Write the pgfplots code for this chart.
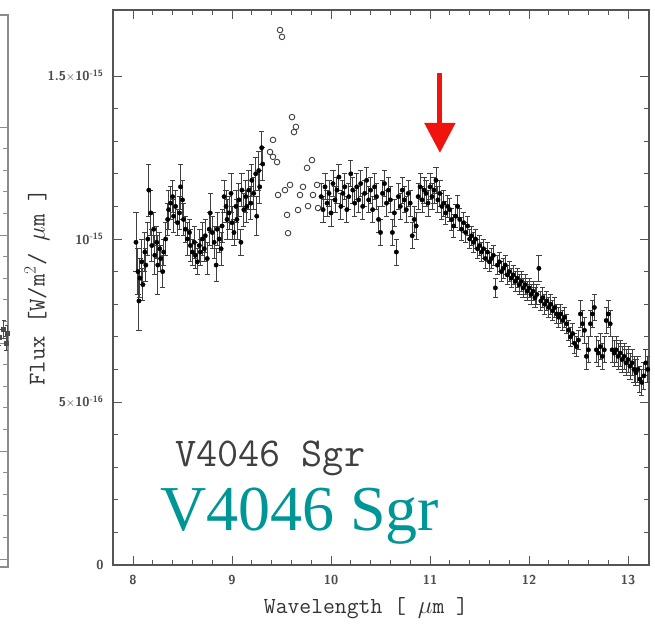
\documentclass[border=0pt]{standalone}
\usepackage{fontspec}
\usepackage{pgfplots}
\usepackage{pgfplotstable}
\pgfplotsset{compat=1.18}
\usetikzlibrary{arrows.meta}
\newfontfamily\timesfont{Liberation Serif}
\definecolor{axgray}{RGB}{85,85,85}
\definecolor{tealc}{RGB}{0,150,150}
\definecolor{arrred}{RGB}{240,20,15}

\pgfplotstableread{
x y e
8.03 0.99 0.09
8.05 0.90 0.07
8.06 0.81 0.09
8.07 0.88 0.06
8.09 0.93 0.07
8.10 0.86 0.05
8.12 0.96 0.06
8.13 0.92 0.05
8.15 1.00 0.05
8.16 1.15 0.08
8.18 1.08 0.07
8.19 0.98 0.05
8.21 1.03 0.05
8.22 0.95 0.06
8.24 0.99 0.05
8.25 0.92 0.09
8.27 0.97 0.05
8.28 0.94 0.04
8.30 0.90 0.05
8.31 0.96 0.04
8.33 1.00 0.05
8.35 1.06 0.05
8.36 1.09 0.06
8.38 1.11 0.05
8.40 1.13 0.05
8.41 1.07 0.05
8.43 1.10 0.05
8.45 1.05 0.04
8.47 1.08 0.05
8.48 1.16 0.07
8.50 1.12 0.06
8.51 1.06 0.05
8.53 1.03 0.04
8.55 1.00 0.05
8.57 1.02 0.04
8.58 0.98 0.05
8.60 0.96 0.04
8.62 0.99 0.05
8.63 0.95 0.04
8.65 0.93 0.04
8.67 0.98 0.05
8.68 0.96 0.04
8.70 1.00 0.05
8.72 0.97 0.04
8.73 1.01 0.05
8.75 0.94 0.05
8.77 1.03 0.05
8.78 1.08 0.06
8.80 1.02 0.05
8.82 0.99 0.05
8.84 0.92 0.05
8.85 1.03 0.05
8.87 1.00 0.04
8.89 0.97 0.05
8.90 1.04 0.05
8.92 1.13 0.05
8.94 1.10 0.05
8.95 1.06 0.06
8.97 1.08 0.05
8.99 1.14 0.06
9.00 1.05 0.05
9.02 1.02 0.04
9.04 1.10 0.05
9.05 1.06 0.06
9.07 1.12 0.05
9.09 0.99 0.04
9.10 1.15 0.05
9.12 1.09 0.05
9.14 1.13 0.05
9.15 1.10 0.05
9.17 1.15 0.06
9.19 1.11 0.05
9.20 1.18 0.05
9.22 1.14 0.05
9.24 1.20 0.05
9.25 1.07 0.06
9.27 1.21 0.06
9.28 1.16 0.05
9.30 1.28 0.05
9.31 1.23 0.05
}\dataA

\pgfplotstableread{
x y e
9.90 1.13 0.04
9.92 1.09 0.04
9.94 1.16 0.04
9.96 1.11 0.04
9.98 1.14 0.04
10.00 1.08 0.04
10.02 1.17 0.04
10.04 1.12 0.04
10.06 1.15 0.04
10.08 1.19 0.04
10.10 1.10 0.04
10.12 1.14 0.04
10.14 1.16 0.04
10.16 1.09 0.04
10.18 1.13 0.04
10.20 1.20 0.04
10.22 1.15 0.04
10.24 1.11 0.04
10.26 1.16 0.04
10.28 1.12 0.04
10.30 1.17 0.04
10.32 1.10 0.04
10.34 1.14 0.04
10.36 1.18 0.04
10.38 1.12 0.04
10.40 1.15 0.04
10.42 1.09 0.04
10.44 1.16 0.04
10.46 1.13 0.04
10.48 1.06 0.04
10.50 1.02 0.04
10.52 1.14 0.04
10.54 1.17 0.04
10.56 1.11 0.04
10.58 1.15 0.04
10.60 1.12 0.04
10.62 1.02 0.04
10.64 1.08 0.04
10.66 0.96 0.04
10.68 1.13 0.04
10.70 1.10 0.04
10.72 1.15 0.04
10.74 1.12 0.04
10.76 1.09 0.04
10.78 1.14 0.04
10.80 1.11 0.04
10.82 1.01 0.04
10.84 1.06 0.04
10.86 1.04 0.04
10.88 1.13 0.04
10.90 1.16 0.04
10.92 1.12 0.04
10.94 1.15 0.04
10.96 1.14 0.04
10.98 1.11 0.04
11.00 1.16 0.04
11.02 1.13 0.04
11.04 1.15 0.04
11.06 1.18 0.04
11.08 1.12 0.04
11.10 1.14 0.04
11.12 1.10 0.04
11.14 1.11 0.04
11.16 1.08 0.035
11.18 1.10 0.035
11.20 1.09 0.035
11.22 1.06 0.035
11.24 1.04 0.035
11.26 1.07 0.035
11.28 1.10 0.035
11.30 1.06 0.035
11.32 1.03 0.035
11.34 1.05 0.03
11.36 1.02 0.03
11.38 1.04 0.03
11.40 1.00 0.03
11.42 1.01 0.03
11.44 0.99 0.03
11.46 1.00 0.03
11.48 0.97 0.03
11.50 0.98 0.03
11.52 0.96 0.03
11.54 0.97 0.03
11.56 0.94 0.03
11.58 0.96 0.03
11.60 0.93 0.03
11.62 0.94 0.03
11.64 0.95 0.03
11.66 0.85 0.03
11.68 0.92 0.03
11.70 0.93 0.03
11.72 0.90 0.03
11.74 0.91 0.03
11.76 0.92 0.03
11.78 0.89 0.03
11.80 0.90 0.03
11.82 0.88 0.03
11.84 0.89 0.03
11.86 0.87 0.03
11.88 0.88 0.03
11.90 0.86 0.03
11.92 0.87 0.03
11.94 0.85 0.03
11.96 0.86 0.03
11.98 0.84 0.03
12.00 0.85 0.03
12.02 0.83 0.03
12.04 0.84 0.03
12.06 0.82 0.03
12.08 0.83 0.03
12.10 0.91 0.04
12.12 0.81 0.03
12.14 0.82 0.03
12.16 0.80 0.03
12.18 0.81 0.03
12.20 0.79 0.03
12.22 0.80 0.03
12.24 0.78 0.03
12.26 0.79 0.03
12.28 0.77 0.03
12.30 0.76 0.03
12.32 0.77 0.03
12.34 0.75 0.03
12.36 0.76 0.03
12.38 0.74 0.03
12.40 0.72 0.03
12.42 0.70 0.03
12.44 0.71 0.03
12.46 0.68 0.03
12.48 0.67 0.03
12.50 0.69 0.03
12.52 0.77 0.04
12.54 0.74 0.04
12.56 0.72 0.04
12.58 0.64 0.04
12.60 0.66 0.04
12.62 0.74 0.04
12.64 0.77 0.04
12.66 0.79 0.04
12.68 0.66 0.04
12.70 0.65 0.04
12.72 0.67 0.04
12.74 0.64 0.04
12.76 0.66 0.04
12.78 0.75 0.04
12.80 0.77 0.04
12.82 0.74 0.04
12.84 0.66 0.04
12.86 0.65 0.04
12.88 0.66 0.04
12.90 0.64 0.04
12.92 0.65 0.04
12.94 0.63 0.04
12.96 0.64 0.04
12.98 0.62 0.04
13.00 0.63 0.04
13.02 0.61 0.04
13.04 0.62 0.04
13.06 0.60 0.04
13.08 0.59 0.04
13.10 0.60 0.04
13.12 0.57 0.04
13.14 0.56 0.04
13.16 0.58 0.04
13.18 0.62 0.04
13.20 0.60 0.04
}\dataB

\pgfplotstableread{
x y
9.485 1.641
9.505 1.620
9.606 1.374
9.646 1.344
9.626 1.328
9.414 1.304
9.384 1.267
9.414 1.252
9.455 1.236
9.808 1.242
9.758 1.218
9.859 1.166
9.586 1.166
9.535 1.150
9.465 1.135
9.717 1.160
9.687 1.135
9.818 1.135
9.556 1.074
9.667 1.089
9.768 1.101
9.869 1.095
9.566 1.018
}\dataC

\begin{document}
\begin{tikzpicture}[x=1pt,y=1pt]
% sliver of the neighbouring panel
\begin{axis}[at={(8pt,60pt)}, anchor=south east, scale only axis,
  width=300pt, height=552pt, xmin=0, xmax=100, ymin=0, ymax=552,
  xtick=\empty, ytick={8,116,224,332,440}, minor y tick num=4,
  yticklabels={}, tick align=inside,
  major tick length=8pt, minor tick length=5pt,
  axis line style={black!45, line width=1.8pt},
  every tick/.style={black!45, line width=0.8pt}]
\addplot[only marks, mark=square*, mark size=2pt, black!70,
  error bars/.cd, y dir=both, y explicit,
  error bar style={black!70, line width=0.5pt}]
  coordinates {(97,230) +- (0,8) (98.5,238) +- (0,9) (99.3,224) +- (0,7) (99.8,234) +- (0,8)};
\end{axis}

\begin{axis}[at={(113pt,62pt)}, anchor=south west, scale only axis,
  width=536pt, height=555pt,
  xmin=7.798, xmax=13.212, ymin=0, ymax=1.7025,
  xtick={8,9,10,11,12,13}, minor x tick num=4,
  ytick={0,0.5,1,1.5}, minor y tick num=4,
  yticklabels={0, 5$\times$10\textsuperscript{-16}, 10\textsuperscript{-15}, 1.5$\times$10\textsuperscript{-15}},
  /pgf/number format/assume math mode=true,
  tick align=inside,
  major tick length=9pt, minor tick length=5pt,
  axis line style={axgray, line width=1.3pt},
  every tick/.style={axgray, line width=0.9pt},
  tick label style={font=\sffamily\bfseries\fontsize{13}{13}\selectfont, text=black!70},
  xticklabel style={yshift=-7pt},
  yticklabel style={xshift=-6pt},
  xlabel={Wavelength [ $\mu$m ]},
  ylabel={Flux [W/m$^2$/ $\mu$m ]},
  every axis x label/.style={at={(axis description cs:0.472,-0.0775)}, anchor=center,
    font=\ttfamily\fontsize{23}{23}\selectfont, text=black!80},
  every axis y label/.style={at={(axis description cs:-0.142,0.5)}, anchor=center, rotate=90,
    font=\ttfamily\fontsize{24}{24}\selectfont, text=black!80},
  clip=false]
\addplot[only marks, mark=*, mark size=2.2pt, black,
  error bars/.cd, y dir=both, y explicit,
  error bar style={black!75, line width=0.9pt},
  error mark options={rotate=90, mark size=2.6pt, line width=0.9pt, black!75}]
  table[x=x, y=y, y error=e] {\dataA};
\addplot[only marks, mark=*, mark size=2.2pt, black,
  error bars/.cd, y dir=both, y explicit,
  error bar style={black!75, line width=0.9pt},
  error mark options={rotate=90, mark size=2.6pt, line width=0.9pt, black!75}]
  table[x=x, y=y, y error=e] {\dataB};
\addplot[only marks, mark=o, mark size=2.8pt, black!75, line width=0.9pt]
  table[x=x, y=y] {\dataC};
\draw[arrred, line width=5pt, -{Triangle[width=30pt,length=30pt]}]
  (axis cs:11.10,1.509) -- (axis cs:11.10,1.264);
\node[anchor=base west, inner sep=0pt, text=black!75, font=\ttfamily\fontsize{41}{41}\selectfont]
  at (axis description cs:0.1157,0.1766) {V4046 Sgr};
\node[anchor=base west, inner sep=0pt, text=tealc, font=\timesfont\fontsize{64}{64}\selectfont]
  at (axis description cs:0.0877,0.063) {V4046 Sgr};
\end{axis}
\pgfresetboundingbox
\useasboundingbox (0,0) rectangle (655,627);
\end{tikzpicture}
\end{document}
